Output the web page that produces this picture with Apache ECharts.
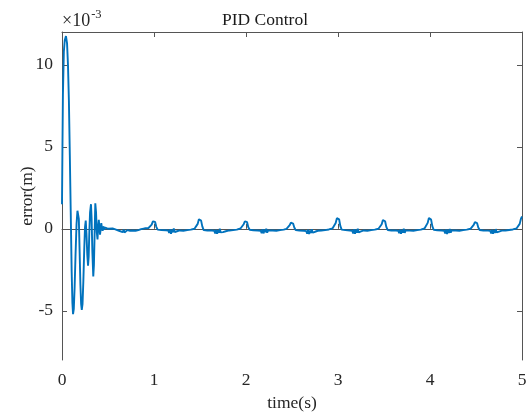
<!DOCTYPE html>
<html>
<head>
<meta charset="utf-8">
<script src="https://cdn.jsdelivr.net/npm/echarts@6/dist/echarts.min.js"></script>
<style>
html,body{margin:0;padding:0;background:#fff;}
#chart{width:529px;height:413px;}
</style>
</head>
<body>
<div id="chart"></div>
<script>
// time in seconds
var time = [
  0, 0.005, 0.01, 0.02, 0.03, 0.043, 0.055, 0.065, 0.075, 0.085, 0.095, 0.105, 0.113, 0.12, 0.128, 0.137, 0.147, 0.158, 0.168, 0.175,
  0.183, 0.192, 0.2, 0.208, 0.215, 0.223, 0.232, 0.242, 0.25, 0.258, 0.266, 0.275, 0.283, 0.29, 0.297, 0.305, 0.315, 0.322, 0.33, 0.34,
  0.347, 0.355, 0.362, 0.37, 0.378, 0.386, 0.393, 0.4, 0.407, 0.413, 0.42, 0.427, 0.434, 0.442, 0.45, 0.46, 0.47, 0.48, 0.5,
  0.52, 0.55, 0.58, 0.6, 0.62, 0.64, 0.66, 0.67, 0.68, 0.69, 0.7, 0.71, 0.72, 0.74, 0.76, 0.77, 0.78, 0.8, 0.83, 0.86, 0.9, 0.94,
  0.96, 0.975, 0.988, 1.0, 1.012, 1.025, 1.04, 1.06, 1.08, 1.1, 1.13, 1.155, 1.165, 1.175, 1.185, 1.195, 1.205, 1.215, 1.225, 1.235, 1.25, 1.28, 1.32, 1.36, 1.4, 1.44,
  1.46, 1.475, 1.488, 1.5, 1.512, 1.525, 1.54, 1.56, 1.58, 1.6, 1.63, 1.655, 1.665, 1.675, 1.685, 1.695, 1.705, 1.715, 1.725, 1.735, 1.75, 1.765, 1.78, 1.82, 1.86, 1.9, 1.94,
  1.96, 1.975, 1.988, 2.0, 2.012, 2.025, 2.04, 2.06, 2.08, 2.1, 2.13, 2.16, 2.17, 2.18, 2.19, 2.2, 2.21, 2.22, 2.23, 2.24, 2.26, 2.29, 2.33, 2.37, 2.41, 2.44,
  2.46, 2.475, 2.488, 2.5, 2.512, 2.525, 2.54, 2.56, 2.58, 2.6, 2.63, 2.655, 2.665, 2.675, 2.685, 2.695, 2.705, 2.715, 2.725, 2.735, 2.75, 2.78, 2.82, 2.86, 2.9, 2.94,
  2.96, 2.975, 2.988, 3.0, 3.012, 3.025, 3.04, 3.06, 3.08, 3.1, 3.13, 3.155, 3.165, 3.175, 3.185, 3.195, 3.205, 3.215, 3.225, 3.235, 3.25, 3.28, 3.32, 3.36, 3.4, 3.44,
  3.46, 3.475, 3.488, 3.5, 3.512, 3.525, 3.54, 3.56, 3.58, 3.6, 3.63, 3.655, 3.665, 3.675, 3.685, 3.695, 3.705, 3.715, 3.725, 3.735, 3.75, 3.78, 3.82, 3.86, 3.9, 3.94,
  3.96, 3.975, 3.988, 4.0, 4.012, 4.025, 4.04, 4.06, 4.08, 4.1, 4.13, 4.155, 4.165, 4.175, 4.185, 4.195, 4.205, 4.215, 4.225, 4.235, 4.25, 4.28, 4.32, 4.36, 4.4, 4.44,
  4.46, 4.475, 4.488, 4.5, 4.512, 4.525, 4.54, 4.56, 4.58, 4.6, 4.63, 4.655, 4.665, 4.675, 4.685, 4.695, 4.705, 4.715, 4.725, 4.735, 4.75, 4.78, 4.82, 4.86, 4.9, 4.94,
  4.96, 4.975, 4.988, 5.0
];
// error in units of 1e-3 m
var errorVals = [
  1.5, 5.0, 8.2, 10.8, 11.5, 11.75, 11.3, 10.0, 7.8, 4.5, 1.0, -2.6, -4.5, -5.2, -4.9, -3.6, -1.6, 0.3, 1.1, 1.2,
  0.6, -1.5, -3.4, -4.6, -4.95, -4.6, -3.2, -1.2, 0.1, 0.5, -0.3, -1.6, -2.25, -1.7, -0.2, 1.0, 1.5, 0.6, -1.4, -2.9,
  -2.2, -0.2, 1.55, 1.0, -0.2, -0.65, 0.1, 0.55, 0.05, -0.36, -0.05, 0.35, 0.05, -0.12, 0.15, -0.05, 0.08, -0.02, 0.0,
  -0.05, 0.02, -0.03, -0.08, -0.12, -0.1, -0.2, -0.05, -0.22, -0.1, -0.25, -0.08, -0.18, -0.12, -0.2, -0.1, -0.15, -0.12, -0.08, -0.02, 0.03, 0.05,
  0.08, 0.25, 0.45, 0.5, 0.42, 0.12, -0.05, -0.03, -0.08, -0.06, -0.09, -0.1, -0.25, -0.02, -0.3, -0.05, -0.22, 0.02, -0.2, -0.08, -0.15, -0.1, -0.12, -0.08, -0.05, 0.0,
  0.08, 0.3, 0.58, 0.65, 0.5, 0.15, -0.08, -0.05, -0.1, -0.06, -0.1, -0.12, -0.28, -0.05, -0.3, -0.08, -0.25, 0.0, -0.22, -0.1, -0.2, -0.08, -0.15, -0.1, -0.08, -0.05, 0.02,
  0.08, 0.28, 0.46, 0.5, 0.4, 0.1, -0.06, -0.02, -0.09, -0.05, -0.1, -0.12, -0.26, -0.03, -0.28, -0.06, -0.2, 0.0, -0.24, -0.1, -0.14, -0.1, -0.12, -0.08, -0.05, 0.0,
  0.06, 0.22, 0.38, 0.42, 0.32, 0.08, -0.08, -0.05, -0.1, -0.08, -0.12, -0.14, -0.3, -0.06, -0.32, -0.1, -0.26, -0.02, -0.24, -0.12, -0.18, -0.12, -0.1, -0.08, -0.04, 0.02,
  0.1, 0.35, 0.65, 0.75, 0.58, 0.18, -0.05, -0.03, -0.08, -0.05, -0.1, -0.12, -0.28, -0.02, -0.3, -0.06, -0.24, 0.0, -0.22, -0.1, -0.16, -0.1, -0.12, -0.08, -0.05, 0.0,
  0.08, 0.28, 0.53, 0.6, 0.46, 0.12, -0.07, -0.04, -0.1, -0.06, -0.1, -0.12, -0.27, -0.04, -0.3, -0.07, -0.23, 0.0, -0.25, -0.1, -0.17, -0.11, -0.12, -0.08, -0.05, 0.02,
  0.1, 0.36, 0.66, 0.75, 0.56, 0.16, -0.06, -0.03, -0.09, -0.06, -0.1, -0.12, -0.28, -0.04, -0.32, -0.06, -0.26, -0.01, -0.23, -0.1, -0.16, -0.1, -0.12, -0.08, -0.05, 0.0,
  0.07, 0.24, 0.4, 0.44, 0.34, 0.08, -0.07, -0.04, -0.1, -0.07, -0.11, -0.13, -0.28, -0.05, -0.31, -0.09, -0.25, -0.02, -0.22, -0.11, -0.17, -0.11, -0.1, -0.07, -0.04, 0.02,
  0.08, 0.3, 0.6, 0.75
];
var xTicks = [0, 1, 2, 3, 4, 5];
var yTicks = [-5, 0, 5, 10];

var seriesData = time.map(function (t, i) { return [t, errorVals[i]]; });

var axisColor = '#555555';
var textColor = '#262626';
var font = '"Liberation Serif", "Times New Roman", serif';

var chart = echarts.init(document.getElementById('chart'), null, { renderer: 'canvas' });
chart.setOption({
  animation: false,
  backgroundColor: '#ffffff',
  title: {
    text: 'PID Control',
    left: 260,
    textAlign: 'center',
    top: 6,
    textStyle: { fontFamily: font, fontSize: 17.5, fontWeight: 'normal', color: '#1a1a1a' }
  },
  graphic: [{
    type: 'text',
    left: 62,
    top: 8,
    style: {
      text: '{a|×10}{b|-3}',
      rich: {
        a: { fontFamily: font, fontSize: 18, fill: textColor, verticalAlign: 'bottom', lineHeight: 22 },
        b: { fontFamily: font, fontSize: 12.5, fill: textColor, verticalAlign: 'top', lineHeight: 22, padding: [0, 0, 10, 1] }
      }
    }
  }],
  grid: { left: 62, right: 7, top: 32, bottom: 53, containLabel: false, outerBoundsMode: 'none' },
  xAxis: [{
    type: 'value', min: 0, max: 5, interval: 1,
    name: 'time(s)', nameLocation: 'middle', nameGap: 34, nameMoveOverlap: false,
    nameTextStyle: { fontFamily: font, fontSize: 17.5, color: textColor },
    axisLine: { show: true, lineStyle: { color: axisColor, width: 1 } },
    axisTick: { show: true, inside: true, length: 5, lineStyle: { color: axisColor } },
    axisLabel: { fontFamily: font, fontSize: 17.5, color: textColor, margin: 11,
      customValues: xTicks },
    splitLine: { show: false }
  }, {
    type: 'value', min: 0, max: 5, interval: 1, position: 'top',
    axisLine: { show: true, onZero: false, lineStyle: { color: axisColor, width: 1 } },
    axisTick: { show: true, inside: true, length: 5, lineStyle: { color: axisColor } },
    axisLabel: { show: false },
    splitLine: { show: false }
  }],
  yAxis: [{
    type: 'value', min: -8, max: 12,
    name: 'error(m)', nameLocation: 'middle', nameGap: 26, nameRotate: 90, nameMoveOverlap: false,
    nameTextStyle: { fontFamily: font, fontSize: 17.5, color: textColor },
    axisLine: { show: true, onZero: false, lineStyle: { color: axisColor, width: 1 } },
    axisTick: { show: true, inside: true, length: 5, customValues: yTicks, lineStyle: { color: axisColor } },
    axisLabel: { fontFamily: font, fontSize: 17.5, color: textColor, margin: 9, customValues: yTicks },
    splitLine: { show: false }
  }, {
    type: 'value', min: -8, max: 12, position: 'right',
    axisLine: { show: true, onZero: false, lineStyle: { color: axisColor, width: 1 } },
    axisTick: { show: true, inside: true, length: 5, customValues: yTicks, lineStyle: { color: axisColor } },
    axisLabel: { show: false, customValues: yTicks },
    splitLine: { show: false }
  }],
  series: [{
    type: 'line',
    xAxisIndex: 0, yAxisIndex: 0,
    data: seriesData,
    showSymbol: false,
    lineStyle: { color: '#0072BD', width: 1.9 },
    itemStyle: { color: '#0072BD' },
    clip: true
  }]
});
</script>
</body>
</html>
